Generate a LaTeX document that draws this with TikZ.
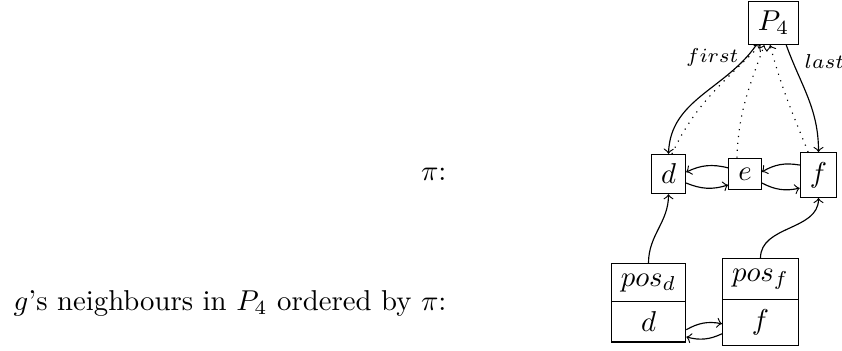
\documentclass[tikz,border=0pt]{standalone}
\usetikzlibrary{shapes.multipart,calc}
\begin{document}
\begin{tikzpicture}[x=0.348pt,y=-0.348pt,
  box/.style={draw,inner sep=3.33pt},
  splitbox/.style={draw,rectangle split,rectangle split parts=2,inner sep=3.33pt,anchor=north},
  lab/.style={font=\scriptsize,inner sep=1pt},
  ptr/.style={->},
  back/.style={->,dotted}]
\useasboundingbox (0,0) rectangle (842,350);
\node[box] (P) at (773.5,23) {$P_4$};
\node[box] (d) at (668.5,174) {$d$};
\node[box] (e) at (745,174) {$e$};
\node[box] (f) at (818.5,175) {$f$};
\node[splitbox] (pd) at (648.5,263) {$pos_d$\nodepart{two}$d$};
\node[splitbox] (pf) at (760.5,258) {$pos_f$\nodepart{two}$f$};
\node[anchor=base east,inner sep=0pt] (pi) at (447,180) {$\pi$:};
\node[anchor=base east,inner sep=0pt] (txt) at (447,310) {$g$'s neighbours in $P_4$ ordered by $\pi$:};
% first / last
\draw[ptr] (P.232) to[out=-125,in=88] node[lab,pos=0.1,anchor=east,xshift=-1.5pt] {$first$} (d.north);
\draw[ptr] (P.300) to[out=-70,in=90] node[lab,pos=0.14,anchor=west,xshift=3pt] {$last$} (f.north);
% dotted back pointers
\draw[back] ([xshift=1.2pt]d.north) to[out=65,in=-135] ([xshift=-4.5pt]P.south);
\draw[back] ([xshift=-2.8pt]e.north) to[out=88,in=-110] ([xshift=-3.2pt]P.south);
\draw[back] ([xshift=-3.6pt]f.north) to[out=112,in=-75] ([xshift=-1.2pt]P.south);
% list links
\draw[ptr] (e.160) to[bend right=20] (d.6);
\draw[ptr] (d.-27) to[bend right=20] (e.213);
\draw[ptr] (f.152) to[bend right=20] (e.7);
\draw[ptr] (e.-28) to[bend right=20] (f.215);
% pos pointers
\draw[ptr] (pd.north) to[out=90,in=-90] (d.south);
\draw[ptr] (pf.north) to[out=90,in=-90] (f.south);
% neighbour links
\draw[ptr] ([yshift=4.5pt]pd.south east) to[bend left=20] ([yshift=7.7pt]pf.south west);
\draw[ptr] ([yshift=4.2pt]pf.south west) to[bend left=20] ([yshift=2pt]pd.south east);
\end{tikzpicture}
\end{document}
